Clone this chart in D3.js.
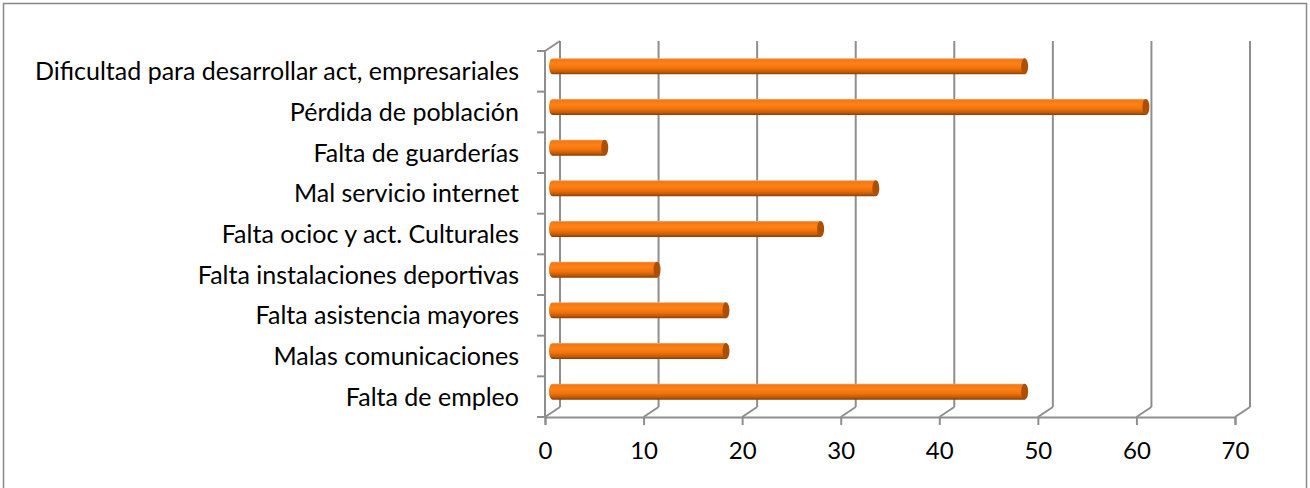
<!DOCTYPE html>
<html>
<head>
<meta charset="utf-8">
<script src="https://cdn.jsdelivr.net/npm/d3@7/dist/d3.min.js"></script>
<style>
  html, body { margin: 0; padding: 0; background: #fff; }
  svg { display: block; }
</style>
</head>
<body>
<svg id="chart" width="1310" height="488"></svg>
<script>
// ---- data ----
const categories = [
  "Dificultad para desarrollar act, empresariales",
  "Pérdida de población",
  "Falta de guarderías",
  "Mal servicio internet",
  "Falta ocioc y act. Culturales",
  "Falta instalaciones deportivas",
  "Falta asistencia mayores",
  "Malas comunicaciones",
  "Falta de empleo"
];
const values = [47.9, 60.2, 5.3, 32.8, 27.2, 10.6, 17.6, 17.6, 47.9];
const xTicks = [0, 10, 20, 30, 40, 50, 60, 70];

(function () {
// ---- layout ----
const svg = d3.select("#chart");
const pLeft = 545, pRight = 1235, pTop = 51, pBottom = 417;
const dx = 15, dy = -10; // depth offset
const FONT = "Lato, 'Open Sans', sans-serif";

svg.append("rect")
  .attr("x", 3.5).attr("y", 3.5).attr("width", 1303).attr("height", 495)
  .attr("fill", "#fff").attr("stroke", "#888").attr("stroke-width", 1.5);

const x = d3.scaleLinear().domain([0, 70]).range([pLeft, pRight]);
const y = d3.scaleBand().domain(categories).range([pTop, pBottom]).padding(0);

const gridColor = "#8e8e8e";

// back-wall gridlines + floor diagonals
const g = svg.append("g");
xTicks.forEach(t => {
  g.append("line")
    .attr("x1", x(t) + dx).attr("x2", x(t) + dx)
    .attr("y1", pTop + dy).attr("y2", pBottom + dy)
    .attr("stroke", gridColor).attr("stroke-width", 2);
  g.append("line")
    .attr("x1", x(t)).attr("y1", pBottom)
    .attr("x2", x(t) + dx).attr("y2", pBottom + dy)
    .attr("stroke", gridColor).attr("stroke-width", 2);
});
// left wall front edge and top diagonal
g.append("line").attr("x1", pLeft).attr("x2", pLeft).attr("y1", pTop).attr("y2", pBottom)
  .attr("stroke", gridColor).attr("stroke-width", 2);
g.append("line").attr("x1", pLeft).attr("y1", pTop).attr("x2", pLeft + dx).attr("y2", pTop + dy)
  .attr("stroke", gridColor).attr("stroke-width", 2);

// left category ticks
const yTickPos = d3.range(categories.length + 1).map(i => pTop + i * y.step());
yTickPos.forEach(p => {
  g.append("line").attr("x1", pLeft - 8).attr("x2", pLeft).attr("y1", p).attr("y2", p)
    .attr("stroke", gridColor).attr("stroke-width", 2);
});

// x axis
const xAxis = d3.axisBottom(x).tickValues(xTicks).tickSize(8).tickPadding(17).tickFormat(d3.format("d"));
const ax = svg.append("g").attr("transform", `translate(0,${pBottom})`).call(xAxis);
ax.select(".domain").attr("stroke", gridColor).attr("stroke-width", 2);
ax.selectAll(".tick line").attr("stroke", gridColor).attr("stroke-width", 2);
ax.selectAll(".tick text").attr("fill", "#000").style("font-family", FONT).style("font-size", "24px");

// category labels
svg.append("g").selectAll("text").data(categories).join("text")
  .attr("x", 519)
  .attr("y", d => y(d) + y.bandwidth() / 2)
  .attr("dy", "0.36em")
  .attr("text-anchor", "end")
  .style("font-family", FONT).style("font-size", "25px").attr("fill", "#000")
  .text(d => d);

// gradient for cylinders
const defs = svg.append("defs");
const grad = defs.append("linearGradient").attr("id", "cyl").attr("x1", 0).attr("y1", 0).attr("x2", 0).attr("y2", 1);
[[0, "#eeb088"], [0.08, "#f27812"], [0.35, "#ff8216"], [0.62, "#f0720c"], [0.85, "#c25a06"], [1, "#843e04"]]
  .forEach(([o, c]) => grad.append("stop").attr("offset", o).attr("stop-color", c));

// bars (cylinders)
const barH = 16, rx = 3.5, ry = barH / 2;
const bars = svg.append("g");
categories.forEach((c, i) => {
  const cy = y(c) + y.bandwidth() / 2 + dy / 2;
  const x0 = x(0) + dx / 2, x1 = x(values[i]) + dx / 2;
  const path = `M${x1},${cy - ry} L${x0},${cy - ry} A${rx},${ry} 0 0 0 ${x0},${cy + ry} L${x1},${cy + ry} Z`;
  bars.append("path").attr("d", path).attr("fill", "url(#cyl)");
  bars.append("ellipse").attr("cx", x1).attr("cy", cy).attr("rx", rx).attr("ry", ry)
    .attr("fill", "#ad4e05");
});
})();
</script>
</body>
</html>
